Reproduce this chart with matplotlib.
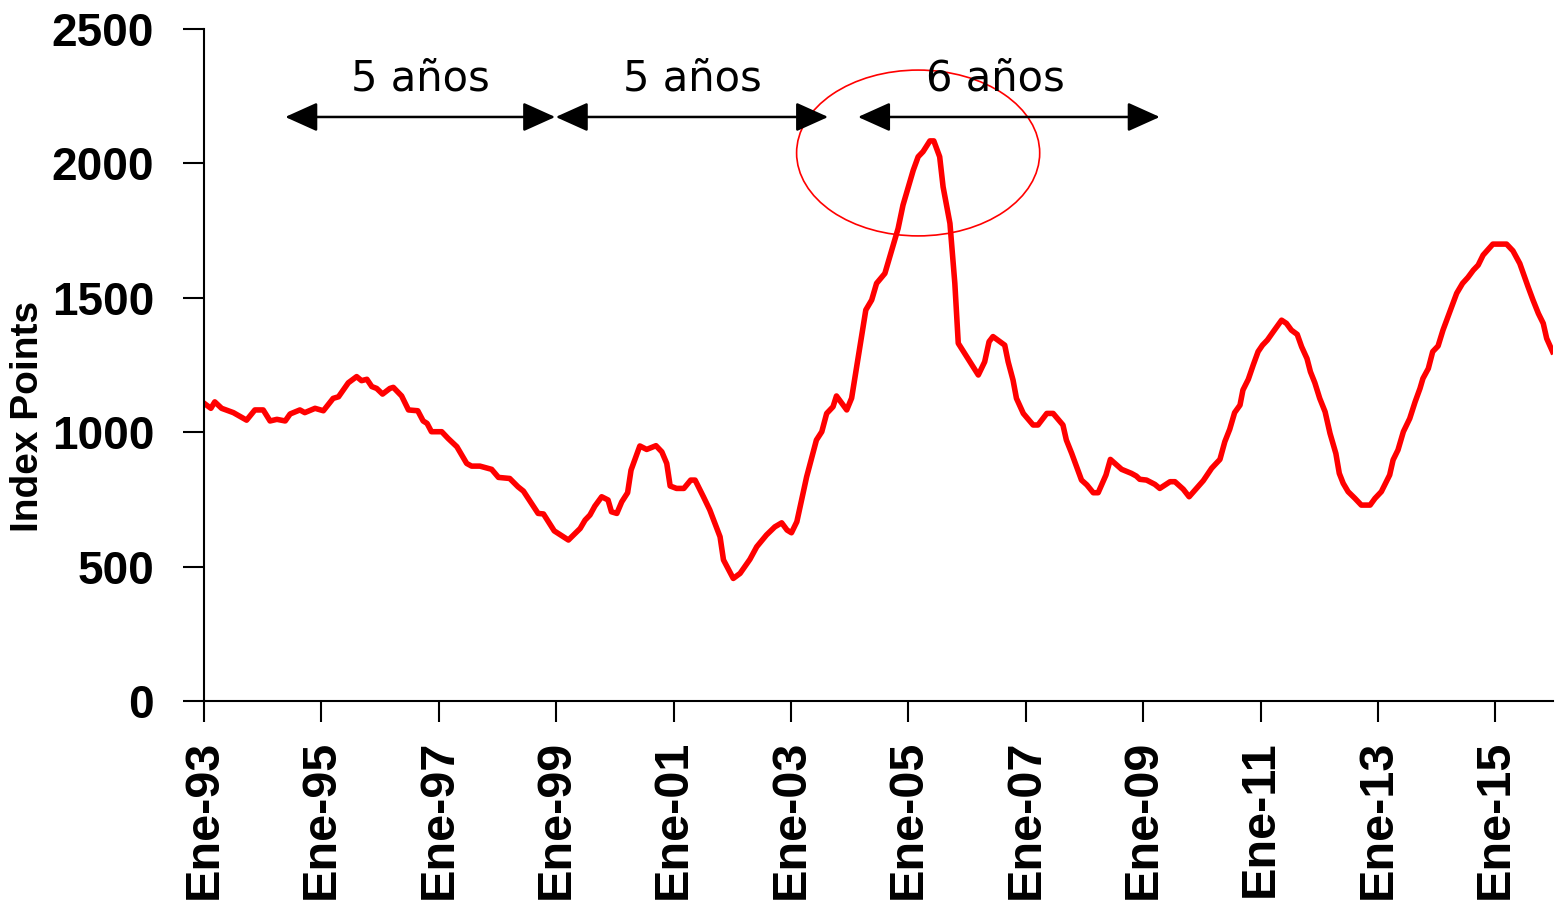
import numpy as np
import matplotlib
matplotlib.use("Agg")
from matplotlib import pyplot as plt
from matplotlib.patches import Ellipse

# months counted from Ene-93
months = [0, 1.4, 2.2, 3.6, 6.0, 8.7, 10.4, 12.1, 13.5, 14.9, 16.6, 17.6, 19.6, 20.6, 22.7,
          24.4, 26.4, 27.5, 29.5, 31.2, 32.2, 33.3, 34.3, 35.3, 36.5, 38.0, 38.7, 40.4, 41.8,
          43.7, 44.8, 45.6, 46.5, 48.6, 49.9, 51.7, 53.7, 54.7, 56.4, 58.8, 60.2, 62.5, 64.2,
          65.3, 68.3, 69.4, 71.6, 74.5, 76.9, 77.9, 78.9, 79.9, 81.3, 82.6, 83.3, 84.4, 85.4,
          86.6, 87.3, 89.1, 90.5, 92.4, 93.6, 94.6, 95.3, 96.6, 98.1, 99.5, 100.4, 102.1, 103.4,
          105.5, 106.2, 108.2, 109.6, 111.6, 113.0, 115.0, 116.7, 118.1, 119.2, 120.1, 121.2,
          123.2, 125.2, 126.3, 127.3, 128.6, 129.3, 131.4, 132.4, 135.3, 136.5, 137.5, 139.2,
          141.9, 142.9, 145.0, 146.0, 147.0, 148.4, 149.2, 150.4, 151.1, 152.5, 153.5, 154.2,
          158.3, 159.6, 160.5, 161.3, 163.7, 164.4, 165.4, 166.1, 167.5, 169.5, 170.5, 172.3,
          173.6, 175.6, 176.3, 177.4, 179.4, 180.5, 181.8, 182.8, 184.4, 185.3, 187.6, 189.6,
          190.6, 191.3, 192.7, 194.4, 195.4, 197.5, 198.5, 200.2, 201.4, 204.3, 206.0, 207.7,
          208.7, 209.7, 210.7, 211.8, 212.4, 213.5, 214.5, 215.5, 216.4, 217.4, 218.6, 220.3,
          221.3, 222.3, 223.5, 224.4, 225.5, 226.2, 227.1, 228.1, 229.2, 230.2, 231.4, 232.1,
          232.9, 233.9, 235.3, 236.6, 238.4, 239.4, 240.7, 242.4, 243.1, 244.1, 245.2, 246.5,
          247.6, 248.6, 249.2, 250.3, 251.2, 252.3, 253.3, 254.7, 256.1, 257.3, 258.4, 259.5,
          260.5, 261.5, 263.5, 266.3, 267.6, 269.0, 270.7, 271.7, 272.8, 273.8, 274.5, 275.7]
index_points = [1108, 1089, 1113, 1089, 1073, 1045, 1083, 1083, 1042, 1048, 1042, 1068, 1083,
                1073, 1089, 1080, 1126, 1132, 1184, 1207, 1192, 1197, 1170, 1163, 1142, 1163,
                1167, 1135, 1083, 1080, 1042, 1033, 1002, 1002, 977, 946, 884, 874, 874, 862,
                832, 828, 797, 781, 698, 696, 633, 599, 642, 673, 692, 725, 760, 748, 704, 698,
                741, 775, 859, 949, 936, 950, 927, 884, 800, 791, 791, 822, 822, 760, 711, 611,
                525, 456, 475, 527, 574, 618, 648, 663, 636, 626, 667, 834, 971, 1002, 1070,
                1095, 1135, 1083, 1127, 1455, 1492, 1554, 1591, 1758, 1845, 1975, 2025, 2044,
                2084, 2084, 2025, 1913, 1777, 1554, 1331, 1213, 1262, 1337, 1356, 1324, 1262,
                1194, 1126, 1070, 1027, 1027, 1070, 1070, 1027, 971, 921, 822, 804, 775, 775,
                841, 899, 862, 847, 837, 825, 822, 806, 791, 816, 816, 788, 760, 820, 866, 899,
                965, 1011, 1073, 1101, 1157, 1197, 1250, 1300, 1324, 1343, 1374, 1417, 1405,
                1380, 1364, 1318, 1274, 1225, 1184, 1126, 1076, 996, 921, 847, 810, 779, 754,
                729, 729, 754, 779, 841, 897, 934, 1002, 1051, 1113, 1163, 1200, 1237, 1300,
                1321, 1380, 1448, 1517, 1554, 1576, 1603, 1622, 1659, 1700, 1700, 1675, 1628,
                1541, 1492, 1442, 1405, 1349, 1300]

tick_months = list(range(0, 265, 24))
tick_labels = ['Ene-93', 'Ene-95', 'Ene-97', 'Ene-99', 'Ene-01', 'Ene-03',
               'Ene-05', 'Ene-07', 'Ene-09', 'Ene-11', 'Ene-13', 'Ene-15']
y_ticks = [0, 500, 1000, 1500, 2000, 2500]

# periods between peaks: start month, end month, label month, label
span_start = [16.6, 71.9, 133.7]
span_end = [71.8, 127.6, 195.4]
span_text_x = [44.2, 99.8, 161.7]
span_text = ['5 años', '5 años', '6 años']

fig = plt.figure(figsize=(15.61, 9.09), dpi=100)
ax = fig.add_axes([0.1307, 0.2288, 0.8642, 0.7392])

ax.plot(months, index_points, color='#ff0000', lw=4.0, solid_joinstyle='round')

ax.set_xlim(0, 275.8)
ax.set_ylim(0, 2500)
ax.spines['top'].set_visible(False)
ax.spines['right'].set_visible(False)
for s in ['left', 'bottom']:
    ax.spines[s].set_linewidth(1.5)

ax.set_xticks(tick_months)
ax.set_xticklabels(tick_labels, rotation=90, fontsize=35, fontweight='bold',
                   family=['Liberation Sans', 'DejaVu Sans'])
ax.set_yticks(y_ticks)
ax.set_yticklabels([str(v) for v in y_ticks], fontsize=33, fontweight='bold',
                   family=['Liberation Sans', 'DejaVu Sans'])
ax.tick_params(axis='both', direction='out', length=15, width=1.5)
ax.tick_params(axis='x', pad=13)
ax.tick_params(axis='y', pad=21)
ax.set_ylabel('Index Points', fontsize=28, fontweight='bold',
              family=['Liberation Sans', 'DejaVu Sans'])
ax.yaxis.set_label_coords(-0.117, 0.424)

for x0, x1, tx, lab in zip(span_start, span_end, span_text_x, span_text):
    ax.annotate('', xy=(x1, 2173), xytext=(x0, 2173),
                arrowprops=dict(arrowstyle='<|-|>,head_length=1.0,head_width=0.45',
                                mutation_scale=20, color='black', lw=1.8,
                                shrinkA=0, shrinkB=0))
    ax.text(tx, 2318, lab, fontsize=30, ha='center', va='center',
            family=['DejaVu Sans'])

ax.add_patch(Ellipse((146.0, 2039), 49.7, 617, fill=False, edgecolor='#ff0000', lw=1.2))

fig.savefig('out.png', dpi=100)
